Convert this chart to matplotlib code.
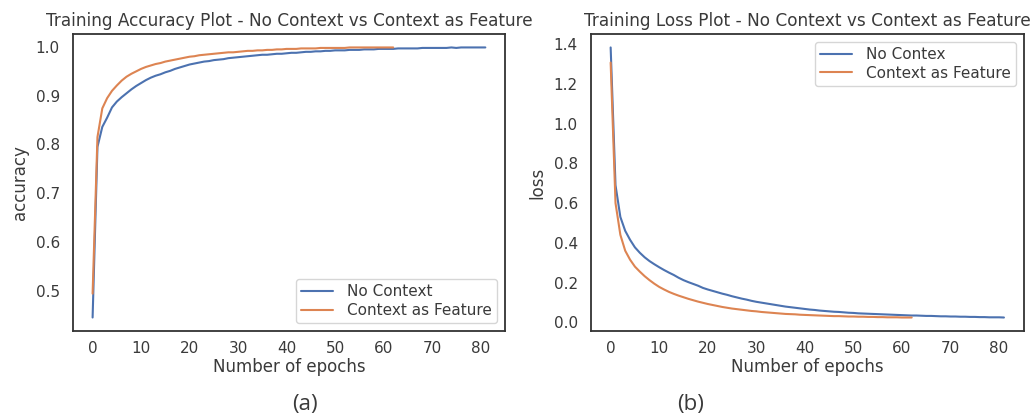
import matplotlib
matplotlib.use("Agg")
import matplotlib.pyplot as plt
import seaborn as sns

# training curves
acc_no_ctx = [0.445, 0.795, 0.836, 0.855, 0.876, 0.888, 0.897, 0.905, 0.913, 0.920,
              0.926, 0.932, 0.937, 0.941, 0.944, 0.948, 0.951, 0.955, 0.958, 0.961,
              0.964, 0.966, 0.968, 0.970, 0.971, 0.973, 0.974, 0.975, 0.977, 0.978,
              0.979, 0.980, 0.981, 0.982, 0.983, 0.984, 0.984, 0.985, 0.986, 0.986,
              0.987, 0.988, 0.988, 0.989, 0.990, 0.990, 0.991, 0.991, 0.992, 0.992,
              0.993, 0.993, 0.993, 0.994, 0.994, 0.994, 0.995, 0.995, 0.995, 0.996,
              0.996, 0.996, 0.996, 0.997, 0.997, 0.997, 0.997, 0.997, 0.998, 0.998,
              0.998, 0.998, 0.998, 0.998, 0.999, 0.998, 0.999, 0.999, 0.999, 0.999,
              0.999, 0.999]
acc_ctx = [0.494, 0.815, 0.874, 0.895, 0.910, 0.921, 0.931, 0.939, 0.945, 0.950,
           0.955, 0.959, 0.962, 0.965, 0.967, 0.970, 0.972, 0.974, 0.976, 0.978,
           0.980, 0.981, 0.983, 0.984, 0.985, 0.986, 0.987, 0.988, 0.989, 0.989,
           0.990, 0.991, 0.992, 0.992, 0.993, 0.993, 0.994, 0.994, 0.995, 0.995,
           0.996, 0.996, 0.996, 0.997, 0.997, 0.997, 0.997, 0.998, 0.998, 0.998,
           0.998, 0.998, 0.998, 0.999, 0.999, 0.999, 0.999, 0.999, 0.999, 0.999,
           0.999, 0.999, 0.999]
loss_no_ctx = [1.383, 0.690, 0.530, 0.460, 0.415, 0.377, 0.350, 0.327, 0.308, 0.292,
               0.277, 0.263, 0.250, 0.238, 0.224, 0.212, 0.202, 0.193, 0.184, 0.173,
               0.165, 0.158, 0.151, 0.144, 0.138, 0.131, 0.125, 0.119, 0.114, 0.108,
               0.103, 0.099, 0.095, 0.091, 0.087, 0.083, 0.079, 0.076, 0.073, 0.070,
               0.067, 0.064, 0.062, 0.059, 0.057, 0.055, 0.053, 0.052, 0.050, 0.048,
               0.047, 0.045, 0.044, 0.043, 0.042, 0.041, 0.040, 0.039, 0.038, 0.037,
               0.036, 0.035, 0.034, 0.034, 0.033, 0.032, 0.032, 0.031, 0.030, 0.030,
               0.029, 0.029, 0.028, 0.028, 0.027, 0.027, 0.026, 0.026, 0.025, 0.025,
               0.025, 0.024]
loss_ctx = [1.307, 0.600, 0.440, 0.360, 0.315, 0.280, 0.255, 0.232, 0.212, 0.194,
            0.178, 0.165, 0.153, 0.143, 0.134, 0.126, 0.118, 0.111, 0.104, 0.098,
            0.092, 0.087, 0.082, 0.077, 0.073, 0.069, 0.066, 0.063, 0.060, 0.057,
            0.055, 0.052, 0.050, 0.048, 0.046, 0.044, 0.042, 0.041, 0.040, 0.038,
            0.037, 0.036, 0.035, 0.034, 0.033, 0.032, 0.031, 0.031, 0.030, 0.029,
            0.029, 0.028, 0.028, 0.027, 0.027, 0.026, 0.026, 0.025, 0.025, 0.025,
            0.024, 0.024, 0.024]

sns.set_style("white")
blue, orange = sns.color_palette("deep")[:2]
txt = "#3a3a3a"
plt.rcParams["text.color"] = txt
plt.rcParams["axes.labelcolor"] = txt
plt.rcParams["xtick.color"] = txt
plt.rcParams["ytick.color"] = txt

fig = plt.figure(figsize=(10.35, 4.19), dpi=100)
ax1 = fig.add_axes([0.0705, 0.21, 0.4174, 0.709])
ax2 = fig.add_axes([0.571, 0.21, 0.418, 0.709])

leg_kw = dict(fontsize=11, labelspacing=0.25, handlelength=2.1,
              handletextpad=0.9, borderpad=0.35)

ax1.plot(range(len(acc_no_ctx)), acc_no_ctx, color=blue, label="No Context")
ax1.plot(range(len(acc_ctx)), acc_ctx, color=orange, label="Context as Feature")
ax1.set_title("Training Accuracy Plot - No Context vs Context as Feature", fontsize=12.2)
ax1.set_xlabel("Number of epochs", fontsize=12, labelpad=1)
ax1.set_ylabel("accuracy", fontsize=12, labelpad=5)
ax1.legend(loc="lower right", **leg_kw)

ax2.plot(range(len(loss_no_ctx)), loss_no_ctx, color=blue, label="No Contex")
ax2.plot(range(len(loss_ctx)), loss_ctx, color=orange, label="Context as Feature")
ax2.set_title("Training Loss Plot - No Context vs Context as Feature", fontsize=12.2)
ax2.set_xlabel("Number of epochs", fontsize=12, labelpad=1)
ax2.set_ylabel("loss", fontsize=12, labelpad=5)
ax2.legend(loc="upper right", **leg_kw)

for ax in (ax1, ax2):
    ax.set_xticks(range(0, 81, 10))
    ax.tick_params(axis="y", labelsize=11, pad=6)
    ax.tick_params(axis="x", labelsize=11, pad=4)
    for s in ax.spines.values():
        s.set_color("#333333")
        s.set_linewidth(1.3)

fig.text(0.295, 0.022, "(a)", fontsize=16, family="Open Sans", ha="center")
fig.text(0.667, 0.022, "(b)", fontsize=16, family="Open Sans", ha="center")

fig.savefig("out.png", dpi=100)
